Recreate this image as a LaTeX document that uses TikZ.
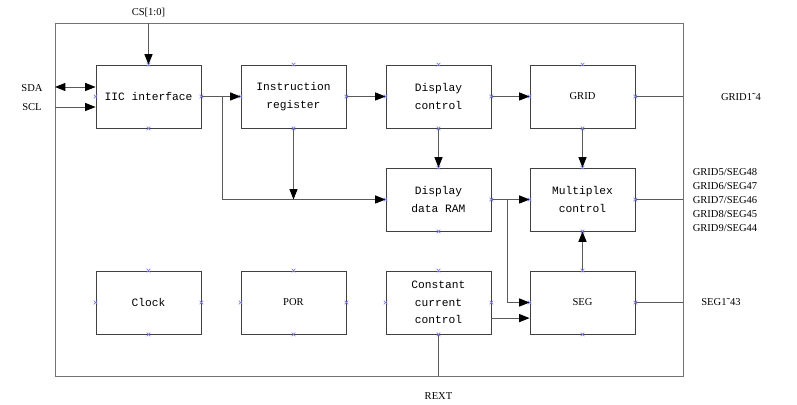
\documentclass[tikz,border=0pt]{standalone}
\usepackage{fontspec}
\setmainfont{Liberation Serif}
\newfontfamily\boxmono{Liberation Mono}
\usetikzlibrary{arrows.meta}
\definecolor{wire}{HTML}{5A5A5A}
\definecolor{pinblue}{HTML}{8080F0}
% blue connection marks on the four sides of a block
\newcommand{\pinmarks}[1]{%
  \foreach \a in {north,south,east,west}
    \draw[pinmark] (#1.\a) +(-1.8,-1.8) -- +(1.8,1.8) +(-1.8,1.8) -- +(1.8,-1.8);}
\begin{document}
\begin{tikzpicture}[
        x=0.025cm, y=-0.025cm,
        block/.style={rectangle, draw=black!75, line width=0.6pt, minimum width=2.625cm, minimum height=1.575cm,
                      align=center, font=\boxmono\fontsize{8pt}{12.5pt}\selectfont},
        sblock/.style={block, font=\fontsize{7.5pt}{10pt}\selectfont},
        lbl/.style={font=\fontsize{7.5pt}{10pt}\selectfont, align=left},
        wire/.style={draw=wire, line width=0.7pt},
        arr/.style={wire, -{Triangle[length=2.6mm, width=2mm, black]}},
        pinmark/.style={draw=pinblue, line width=0.45pt}
        ]
      \useasboundingbox (0,0) rectangle (797,405);
      % outer frame
      \draw[draw=black!55, line width=0.7pt] (55,23) rectangle (683,376);
      \coordinate (rgt) at (683,0);
      \coordinate (bot) at (0,376);
      % blocks
      \node[block] (iic) at (148.5,96.5) {IIC interface};
      \node[block] (ir) at (293.5,96.5) {Instruction\\register};
      \node[block] (dc) at (438.5,96.5) {Display\\control};
      \node[sblock] (grid) at (582.5,96.5) {GRID};
      \node[block] (ram) at (438.5,199.5) {Display\\data RAM};
      \node[block] (mux) at (582.5,199.5) {Multiplex\\control};
      \node[block] (clk) at (148.5,302.5) {Clock};
      \node[sblock] (por) at (293.5,302.5) {POR};
      \node[block] (ccc) at (438.5,302.5) {Constant\\current\\control};
      \node[sblock] (seg) at (582.5,302.5) {SEG};
      % pins
      \node[lbl] (cs) at (148.5,13) {CS[1:0]};
      \node[lbl] (sda) at (32,88) {SDA};
      \node[lbl] (scl) at (32,107) {SCL};
      \node[lbl] (g14) at (741,97) {GRID1˜4};
      \node[lbl] (gseg) at (725,200) {GRID5/SEG48\\GRID6/SEG47\\GRID7/SEG46\\GRID8/SEG45\\GRID9/SEG44};
      \node[lbl] (s143) at (721,302) {SEG1˜43};
      \node[lbl] (rext) at (438.5,396) {REXT};
      \coordinate (csin) at (148.5,23);
      \coordinate (sdain) at (55,87);
      \coordinate (sclin) at (55,107);
      \coordinate (tap1) at (222,96.5);
      \coordinate (tap2) at (507,199.5);
      % connections
      \draw[arr] (csin) -- (iic.north);
      \draw[wire, {Triangle[length=2.6mm, width=2mm, black]}-{Triangle[length=2.6mm, width=2mm, black]}] (sdain) -- (sdain -| iic.west);
      \draw[arr] (sclin) -- (sclin -| iic.west);
      \draw[arr] (iic) -- (ir);
      \draw[arr] (ir) -- (dc);
      \draw[arr] (dc) -- (grid);
      \draw[arr] (dc) -- (ram);
      \draw[arr] (grid) -- (mux);
      \draw[arr] (tap1) |- (ram.west);
      \draw[arr] (ir.south) -- (ir.south |- ram.west);
      \draw[arr] (ram) -- (mux);
      \draw[arr] (tap2) |- (seg.west);
      \draw[arr] (seg) -- (mux);
      \draw[arr] ([yshift=-0.39cm]ccc.east) -- ([yshift=-0.39cm]seg.west);
      \draw[wire] (grid.east) -- (grid.east -| rgt);
      \draw[wire] (mux.east) -- (mux.east -| rgt);
      \draw[wire] (seg.east) -- (seg.east -| rgt);
      \draw[wire] (ccc.south) -- (ccc.south |- bot);
      \foreach \b in {iic,ir,dc,grid,ram,mux,clk,por,ccc,seg}
        {\pinmarks{\b}}
    \end{tikzpicture}
\end{document}
